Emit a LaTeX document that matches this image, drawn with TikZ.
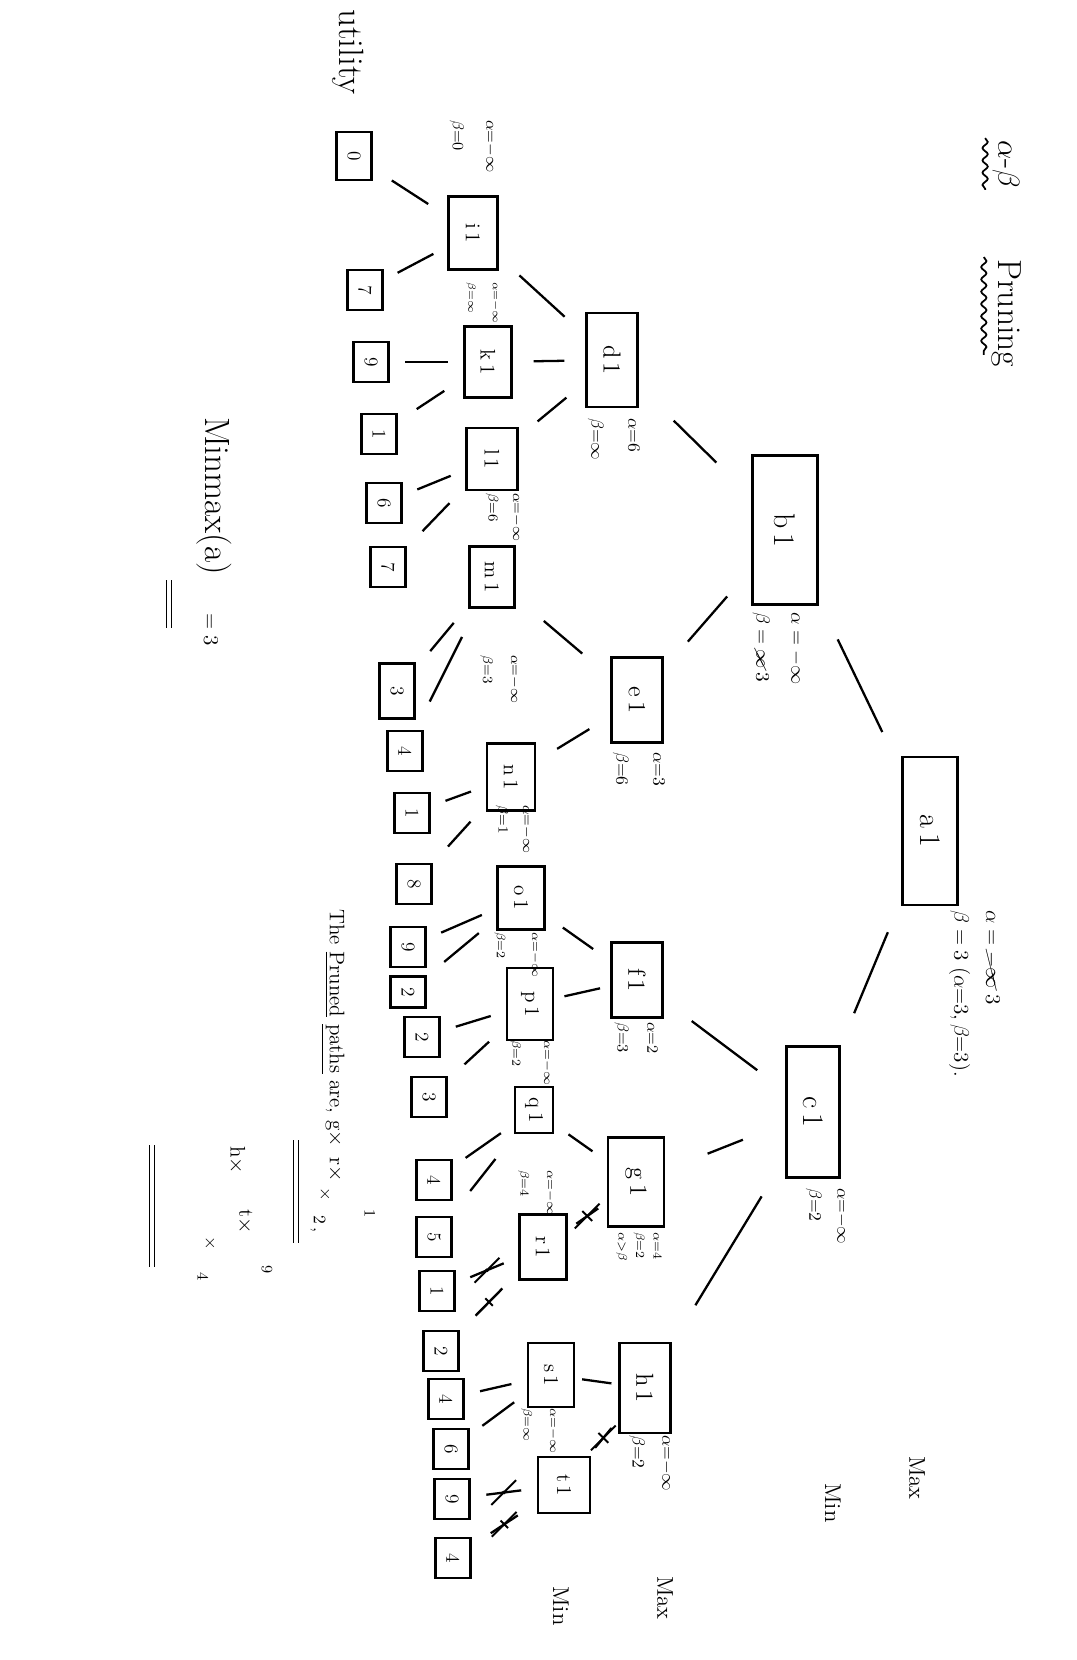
\documentclass[tikz,border=0pt]{standalone}
\usepackage{amsmath,amssymb,cancel}
\usetikzlibrary{shapes.misc,decorations.pathmorphing}

\begin{document}
\begin{tikzpicture}[x=0.02cm,y=-0.02cm,
 box/.style={draw,line width=1.3pt,rotate=-90,inner sep=1pt},
 big/.style={box,font=\fontsize{17}{19}\selectfont},
 mid/.style={box,font=\fontsize{14}{16}\selectfont},
 low/.style={box,font=\fontsize{12}{14}\selectfont},
 leaf/.style={box,minimum width=.8cm,minimum height=.7cm,font=\fontsize{11}{13}\selectfont},
 note/.style={rotate=-90,anchor=north west,align=left,inner sep=0pt},
 hand/.style={rotate=-90,inner sep=1pt},
 link/.style={line width=1.3pt,shorten <=#1,shorten >=#1},
 link/.default=9pt,
 cut/.style={draw,cross out,line width=1.1pt,minimum size=13pt,inner sep=0pt},
 wavy/.style={line width=1pt,decorate,decoration={snake,amplitude=1.5pt,segment length=7pt}},
 twin/.style={double,double distance=2pt,line width=.9pt}]
\useasboundingbox (0,0) rectangle (1076,1660);

% the sheet is turned on its side: root on the right, utilities on the left
\node[big,minimum width=2.96cm,minimum height=1.1cm] (a1) at (930,831) {a\,1};
\node[big,minimum width=2.98cm,minimum height=1.3cm] (b1) at (785,530) {b\,1};
\node[big,minimum width=2.62cm,minimum height=1.06cm] (c1) at (813,1112) {c\,1};
\node[mid,minimum width=1.88cm,minimum height=1.02cm] (d1) at (612,360) {d\,1};
\node[mid,minimum width=1.7cm,minimum height=1.02cm] (e1) at (637,700) {e\,1};
\node[mid,minimum width=1.5cm,minimum height=1.02cm] (f1) at (637,980) {f\,1};
\node[mid,minimum width=1.78cm,minimum height=1.12cm] (g1) at (636,1182) {g\,1};
\node[mid,minimum width=1.8cm,minimum height=1.02cm] (h1) at (645,1388) {h\,1};
\node[low,minimum width=1.46cm,minimum height=.98cm] (i1) at (473,233) {i\,1};
\node[low,minimum width=1.42cm,minimum height=.94cm] (k1) at (488,362) {k\,1};
\node[low,minimum width=1.24cm,minimum height=1.02cm] (l1) at (492,459) {l\,1};
\node[low,minimum width=1.22cm,minimum height=.9cm] (m1) at (492,577) {m\,1};
\node[low,minimum width=1.34cm,minimum height=.96cm] (n1) at (511,777) {n\,1};
\node[low,minimum width=1.26cm,minimum height=.94cm] (o1) at (521,898) {o\,1};
\node[low,minimum width=1.44cm,minimum height=.92cm] (p1) at (530,1004) {p\,1};
\node[low,minimum width=.92cm,minimum height=.76cm] (q1) at (534,1110) {q\,1};
\node[low,minimum width=1.3cm,minimum height=.94cm] (r1) at (543,1247) {r\,1};
\node[low,minimum width=1.28cm,minimum height=.92cm] (s1) at (551,1375) {s\,1};
\node[low,minimum width=1.12cm,minimum height=1.04cm] (t1) at (564,1485) {t\,1};

% utilities
\node[leaf,minimum width=.96cm] (u1) at (354,156) {0};
\node[leaf] (u2) at (365,290) {7};
\node[leaf] (u3) at (371,362) {9};
\node[leaf] (u4) at (379,434) {1};
\node[leaf] (u5) at (384,503) {6};
\node[leaf] (u6) at (388,567) {7};
\node[leaf,minimum width=1.1cm] (u7) at (397,691) {3};
\node[leaf] (u8) at (405,751) {4};
\node[leaf] (u9) at (412,813) {1};
\node[leaf] (u10) at (414,884) {8};
\node[leaf] (u11) at (408,947) {9};
\node[leaf,minimum width=.62cm] (u12) at (408,992) {2};
\node[leaf] (u13) at (422,1037) {2};
\node[leaf] (u14) at (429,1097) {3};
\node[leaf] (u15) at (434,1180) {4};
\node[leaf] (u16) at (434,1237) {5};
\node[leaf] (u17) at (437,1291) {1};
\node[leaf] (u18) at (441,1351) {2};
\node[leaf] (u19) at (446,1399) {4};
\node[leaf] (u20) at (451,1449) {6};
\node[leaf] (u21) at (452,1499) {9};
\node[leaf] (u22) at (453,1558) {4};

\draw[link=25pt] (a1)--(b1);
\draw[link=20pt] (a1)--(c1);
\draw[link=28pt] (b1)--(d1);
\draw[link=21pt] (b1)--(e1);
\draw[link=20pt] (c1)--(f1);
\draw[link=26pt] (c1)--(g1);
\draw[link=26pt] (c1)--(h1);
\draw[link=16pt] (d1)--(i1);
\draw[link=12pt] (d1)--(k1);
\draw[link=14pt] (d1)--(l1);
\draw[link=21pt] (e1)--(m1);
\draw[link=14pt] (e1)--(n1);
\draw[link=12pt] (f1)--(o1);
\draw[link=6pt] (f1)--(p1);
\draw[link=10pt] (g1)--(q1);
\draw[link=6pt] (g1)--node[cut]{}(r1);
\draw[link=4pt] (h1)--(s1);
\draw[link=6pt] (h1)--node[cut]{}(t1);
\draw[link=13pt] (i1)--(u1);
\draw[link] (i1)--(u2);
\draw[link] (k1)--(u3);
\draw[link=13pt] (k1)--(u4);
\draw[link] (l1)--(u5);
\draw[link=13pt] (l1)--(u6);
\draw[link=13pt] (m1)--(u7);
\draw[link=18pt] (m1)--(u8);
\draw[link] (n1)--(u9);
\draw[link=13pt] (n1)--(u10);
\draw[link] (o1)--(u11);
\draw[link=13pt] (o1)--(u12);
\draw[link] (p1)--(u13);
\draw[link=13pt] (p1)--(u14);
\draw[link] (q1)--(u15);
\draw[link=18pt] (q1)--(u16);
\draw[link] (r1)--node[cut]{}(u17);
\draw[link=13pt] (r1)--node[cut]{}(u18);
\draw[link] (s1)--(u19);
\draw[link] (s1)--(u20);
\draw[link] (t1)--node[cut]{}(u21);
\draw[link=13pt] (t1)--node[cut]{}(u22);

% alpha / beta written beside the boxes
\node[note,font=\fontsize{12}{18}\selectfont] (a1ab) at (1000,910) {$\alpha = \cancel{-\infty}\;3$\\$\beta = 3\;(\alpha{=}3,\beta{=}3).$};
\node[note,font=\fontsize{11}{20}\selectfont] (b1ab) at (803,612) {$\alpha=-\infty$\\$\beta=\cancel{\infty}\,3$};
\node[note,font=\fontsize{10}{16}\selectfont] (c1ab) at (848,1188) {$\alpha{=}{-}\infty$\\$\beta{=}2$};
\node[note,font=\fontsize{10}{21}\selectfont] (d1ab) at (640,418) {$\alpha{=}6$\\$\beta{=}\infty$};
\node[note,font=\fontsize{10}{21}\selectfont] (e1ab) at (665,752) {$\alpha{=}3$\\$\beta{=}6$};
\node[note,font=\fontsize{9}{17}\selectfont] (f1ab) at (658,1022) {$\alpha{=}2$\\$\beta{=}3$};
\node[note,font=\fontsize{7}{10}\selectfont] (g1ab) at (662,1232) {$\alpha{=}4$\\$\beta{=}2$\\$\alpha{>}\beta$};
\node[note,font=\fontsize{10}{17}\selectfont] (h1ab) at (673,1435) {$\alpha{=}{-}\infty$\\$\beta{=}2$};
\node[note,font=\fontsize{9}{19}\selectfont] (i1ab) at (496,120) {$\alpha{=}{-}\infty$\\$\beta{=}0$};
\node[note,font=\fontsize{6}{14}\selectfont] (k1ab) at (500,282) {$\alpha{=}{-}\infty$\\$\beta{=}\infty$};
\node[note,font=\fontsize{8}{14}\selectfont] (l1ab) at (522,493) {$\alpha{=}{-}\infty$\\$\beta{=}6$};
\node[note,font=\fontsize{8}{16}\selectfont] (m1ab) at (520,655) {$\alpha{=}{-}\infty$\\$\beta{=}3$};
\node[note,font=\fontsize{8}{14}\selectfont] (n1ab) at (532,805) {$\alpha{=}{-}\infty$\\$\beta{=}1$};
\node[note,font=\fontsize{7}{20}\selectfont] (o1ab) at (540,932) {$\alpha{=}{-}\infty$\\$\beta{=}2$};
\node[note,font=\fontsize{7}{18}\selectfont] (p1ab) at (552,1040) {$\alpha{=}{-}\infty$\\$\beta{=}2$};
\node[note,font=\fontsize{7}{15}\selectfont] (q1ab) at (555,1170) {$\alpha{=}{-}\infty$\\$\beta{=}4$};
\node[note,font=\fontsize{7}{15}\selectfont] (s1ab) at (558,1408) {$\alpha{=}{-}\infty$\\$\beta{=}\infty$};

% headings and notes
\node[hand,font=\fontsize{19}{22}\selectfont] (ttl1) at (1006,164) {$\alpha$-$\beta$};
\node[hand,font=\fontsize{19}{22}\selectfont] (ttl2) at (1006,313) {Pruning};
\draw[wavy] ([xshift=-3pt]ttl1.south west)--([xshift=-3pt]ttl1.south east);
\draw[wavy] ([xshift=-3pt]ttl2.south west)--([xshift=-3pt,yshift=8pt]ttl2.south east);
\node[hand,font=\fontsize{20}{24}\selectfont] (util) at (348,52) {utility};
\node[hand,font=\fontsize{13}{15}\selectfont] (max1) at (917,1478) {Max};
\node[hand,font=\fontsize{13}{15}\selectfont] (min1) at (833,1503) {Min};
\node[hand,font=\fontsize{13}{15}\selectfont] (max2) at (665,1598) {Max};
\node[hand,font=\fontsize{13}{15}\selectfont] (min2) at (561,1606) {Min};
\node[hand,font=\fontsize{20}{24}\selectfont] (mm) at (214,496) {Minmax(a)};
\node[hand,font=\fontsize{12}{14}\selectfont] (mmval) at (211,630) {$=3$};
\draw[twin] (169,580)--(169,628);
\node[hand,anchor=west,font=\fontsize{12}{14}\selectfont] (pruned) at (333,907) {The \underline{Pruned} \underline{paths} are, g$\times$\, r$\times$};
\node[hand,font=\fontsize{9}{11}\selectfont] (pr1) at (370,1214) {1};
\node[hand,font=\fontsize{10}{12}\selectfont] (pr2) at (325,1194) {$\times$};
\node[hand,font=\fontsize{10}{12}\selectfont] (pr3) at (318,1224) {2\,,};
\node[hand,font=\fontsize{12}{14}\selectfont] (pr4) at (237,1160) {h$\times$};
\node[hand,font=\fontsize{12}{14}\selectfont] (pr5) at (245,1222) {t$\times$};
\node[hand,font=\fontsize{10}{12}\selectfont] (pr6) at (210,1243) {$\times$};
\node[hand,font=\fontsize{9}{11}\selectfont] (pr7) at (267,1270) {9};
\node[hand,font=\fontsize{9}{11}\selectfont] (pr8) at (203,1277) {4};
\draw[twin] (296,1140)--(296,1243);
\draw[twin] (152,1145)--(152,1267);
\end{tikzpicture}
\end{document}
